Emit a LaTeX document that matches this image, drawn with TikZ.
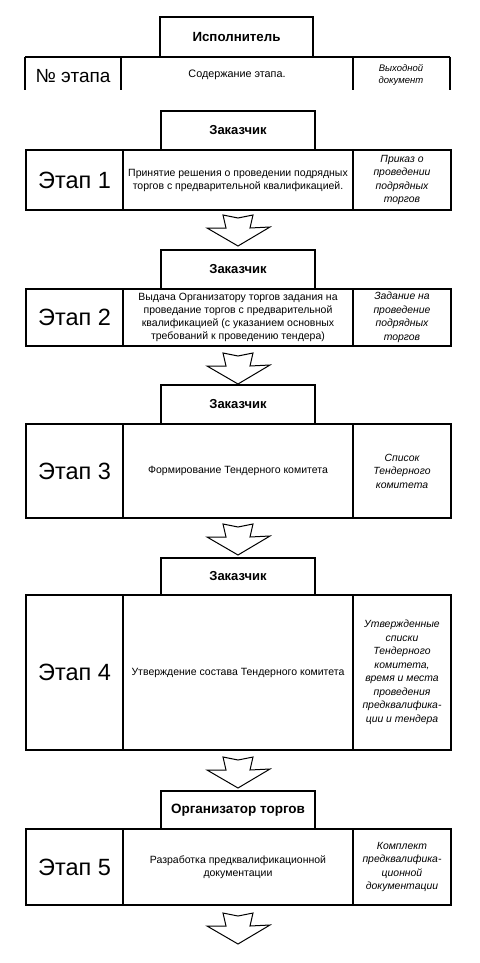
\documentclass[tikz,border=0pt]{standalone}
\usepackage{fontspec}
\setmainfont{Liberation Sans}
\usetikzlibrary{calc}
\tikzset{
  ln/.style={line width=1.3pt, line join=miter},
  cell/.style={draw, ln, rectangle, inner sep=0pt, outer sep=0pt, anchor=north west, minimum height=#1},
  numcell/.style={cell=#1, minimum width=97pt, font=\fontsize{23.5}{26}\selectfont},
  textcell/.style={cell=#1, minimum width=230pt, align=center, font=\fontsize{10.5}{13}\selectfont},
  doccell/.style={cell=#1, minimum width=98pt, align=center, font=\fontsize{10.4}{13.5}\selectfont\itshape},
  actor/.style={draw, ln, rectangle, inner sep=0pt, outer sep=0pt, anchor=north west, minimum width=154pt, minimum height=#1, font=\fontsize{13}{15}\selectfont\bfseries},
  blockarr/.style={draw, line width=1pt, line join=miter, fill=white},
}
\newcommand\stagearrow[1]{%
  \draw[blockarr, shift={(#1)}] (-15,0) -- (0,3) -- (15,0) -- (12,13) -- (32,12) -- (0,31) -- (-31,13) -- (-12,13) -- cycle;}
\begin{document}
\begin{tikzpicture}[x=1pt, y=-1pt]
\useasboundingbox (0,0) rectangle (479,963);
% header
\node[actor=40pt, minimum width=153pt, font=\fontsize{13.3}{15}\selectfont\bfseries] (exec) at (160,17) {Исполнитель};
\coordinate (hL) at (25,57);
\coordinate (hR) at (450,57);
\draw[ln] (hL) -- (hR);
\draw[ln] (hL) -- ++(0,33) coordinate (hLb);
\draw[ln] (121,57) coordinate (h1) -- ++(0,33);
\draw[ln] (353,57) coordinate (h2) -- ++(0,33);
\draw[ln] (hR) -- ++(0,33);
\node[font=\fontsize{19}{22}\selectfont] (hnum) at (73,76) {№ этапа};
\node[font=\fontsize{10.8}{12}\selectfont] (hcont) at (237,75) {Содержание этапа.};
\node[align=center, font=\fontsize{9.5}{12.5}\selectfont\itshape] (hdoc) at (401,75) {Выходной\\документ};

% stage 1
\node[actor=39pt] (a1) at (161,111) {Заказчик};
\node[numcell=60pt] (n1) at (26,150) {Этап 1};
\node[textcell=60pt] (t1) at (n1.north east) {Принятие решения о проведении подрядных\\торгов с предварительной квалификацией.};
\node[doccell=60pt] (d1) at (t1.north east) {Приказ о\\проведении\\подрядных\\торгов};
\coordinate (ar1) at (238,215);
\stagearrow{ar1}

% stage 2
\node[actor=39pt] (a2) at (161,250) {Заказчик};
\node[numcell=57pt] (n2) at (26,289) {Этап 2};
\node[textcell=57pt] (t2) at (n2.north east) {Выдача Организатору торгов задания на\\проведание торгов с предварительной\\квалификацией (с указанием основных\\требований к проведению тендера)};
\node[doccell=57pt] (d2) at (t2.north east) {Задание на\\проведение\\подрядных\\торгов};
\coordinate (ar2) at (238,353);
\stagearrow{ar2}

% stage 3
\node[actor=39pt] (a3) at (161,385) {Заказчик};
\node[numcell=94pt] (n3) at (26,424) {Этап 3};
\node[textcell=94pt] (t3) at (n3.north east) {Формирование Тендерного комитета};
\node[doccell=94pt] (d3) at (t3.north east) {Список\\Тендерного\\комитета};
\coordinate (ar3) at (238,524);
\stagearrow{ar3}

% stage 4
\node[actor=37pt] (a4) at (161,558) {Заказчик};
\node[numcell=155pt] (n4) at (26,595) {Этап 4};
\node[textcell=155pt] (t4) at (n4.north east) {Утверждение состава Тендерного комитета};
\node[doccell=155pt] (d4) at (t4.north east) {Утвержденные\\списки\\Тендерного\\комитета,\\время и места\\проведения\\предквалифика-\\ции и тендера};
\coordinate (ar4) at (238,757);
\stagearrow{ar4}

% stage 5
\node[actor=38pt, font=\fontsize{13.5}{15}\selectfont\bfseries] (a5) at (161,791) {Организатор торгов};
\node[numcell=76pt] (n5) at (26,829) {Этап 5};
\node[textcell=76pt] (t5) at (n5.north east) {Разработка предквалификационной\\документации};
\node[doccell=76pt] (d5) at (t5.north east) {Комплект\\предквалифика-\\ционной\\документации};
\coordinate (ar5) at (238,913);
\stagearrow{ar5}
\end{tikzpicture}
\end{document}
